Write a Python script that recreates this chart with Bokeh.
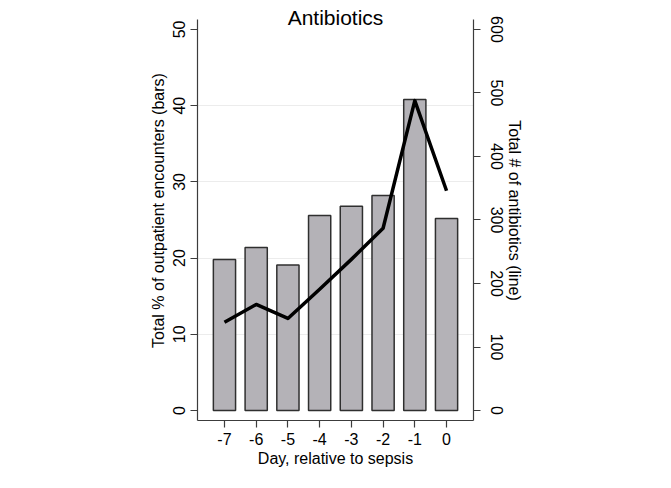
import math
from bokeh.plotting import figure
from bokeh.models import LinearAxis, Range1d, FixedTicker, Label, ColumnDataSource
from bokeh.embed import file_html
from bokeh.resources import INLINE

days = [-7, -6, -5, -4, -3, -2, -1, 0]
pct_encounters = [19.8, 21.4, 19.1, 25.6, 26.8, 28.2, 40.8, 25.2]
n_antibiotics = [139, 167, 145, 191, 238, 287, 488, 346]
left_ticks = [0, 10, 20, 30, 40, 50]
right_ticks = [0, 100, 200, 300, 400, 500, 600]
day_labels = {d: str(d) for d in days}

FONT = "Liberation Sans"
AX = "#3c3c3c"

X_LO, X_HI = -7.85, 0.85
Y_LO, Y_AX_HI, Y_HI = -1.31, 51.31, 53.80
R = 12.0

p = figure(width=655, height=472, output_backend="svg", toolbar_location=None,
           x_range=Range1d(X_LO, X_HI), y_range=Range1d(Y_LO, Y_HI),
           min_border_left=197, min_border_right=182, min_border_top=0, min_border_bottom=52)
p.outline_line_color = None
p.background_fill_color = "white"
p.border_fill_color = "white"

p.extra_y_ranges = {"line": Range1d(Y_LO * R, Y_HI * R)}

src = ColumnDataSource(dict(x=days, top=pct_encounters, n=n_antibiotics))
p.vbar(x="x", top="top", bottom=0, width=0.7, source=src,
       fill_color="#b4b2b7", line_color="#2f2f2f", line_width=1.5)
p.line(x="x", y="n", source=src, y_range_name="line", line_color="black",
       line_width=3.5, line_join="round")

ya = p.yaxis[0]
ya.ticker = FixedTicker(ticks=left_ticks)
ya.axis_label = "Total % of outpatient encounters (bars)"
ya.major_label_orientation = "vertical"
ya.bounds = (Y_LO, Y_AX_HI)

ra = LinearAxis(y_range_name="line", ticker=FixedTicker(ticks=right_ticks),
                axis_label="Total # of antibiotics (line)")
ra.major_label_orientation = "vertical"
ra.bounds = (Y_LO * R, Y_AX_HI * R)
p.add_layout(ra, "right")

xa = p.xaxis[0]
xa.ticker = FixedTicker(ticks=days)
xa.major_label_overrides = day_labels
xa.axis_label = "Day, relative to sepsis"

for ax in [ya, ra, xa]:
    ax.axis_line_color = AX
    ax.axis_line_width = 1.2
    ax.major_tick_line_color = AX
    ax.major_tick_line_width = 1.2
    ax.major_tick_out = 7
    ax.major_tick_in = 0
    ax.minor_tick_line_color = None
    ax.major_label_text_font = FONT
    ax.major_label_text_font_size = "16px"
    ax.major_label_text_color = "black"
    ax.axis_label_text_font = FONT
    ax.axis_label_text_font_size = "16px"
    ax.axis_label_text_font_style = "normal"
    ax.axis_label_text_color = "black"
    ax.major_label_standoff = 5
    ax.axis_label_standoff = 2
ya.axis_label_standoff = 4
ra.major_label_standoff = 10
ra.axis_label_standoff = 0

p.xgrid.grid_line_color = None
p.ygrid.ticker = FixedTicker(ticks=[10, 20, 30, 40])
p.ygrid.grid_line_color = "#ececec"
p.ygrid.grid_line_width = 1

title = Label(x=-3.5, y=51.57, text="Antibiotics", text_font=FONT,
              text_font_size="21px", text_align="center", text_baseline="middle",
              text_color="black")
p.add_layout(title)

open("out.html", "w").write(file_html(p, INLINE))
